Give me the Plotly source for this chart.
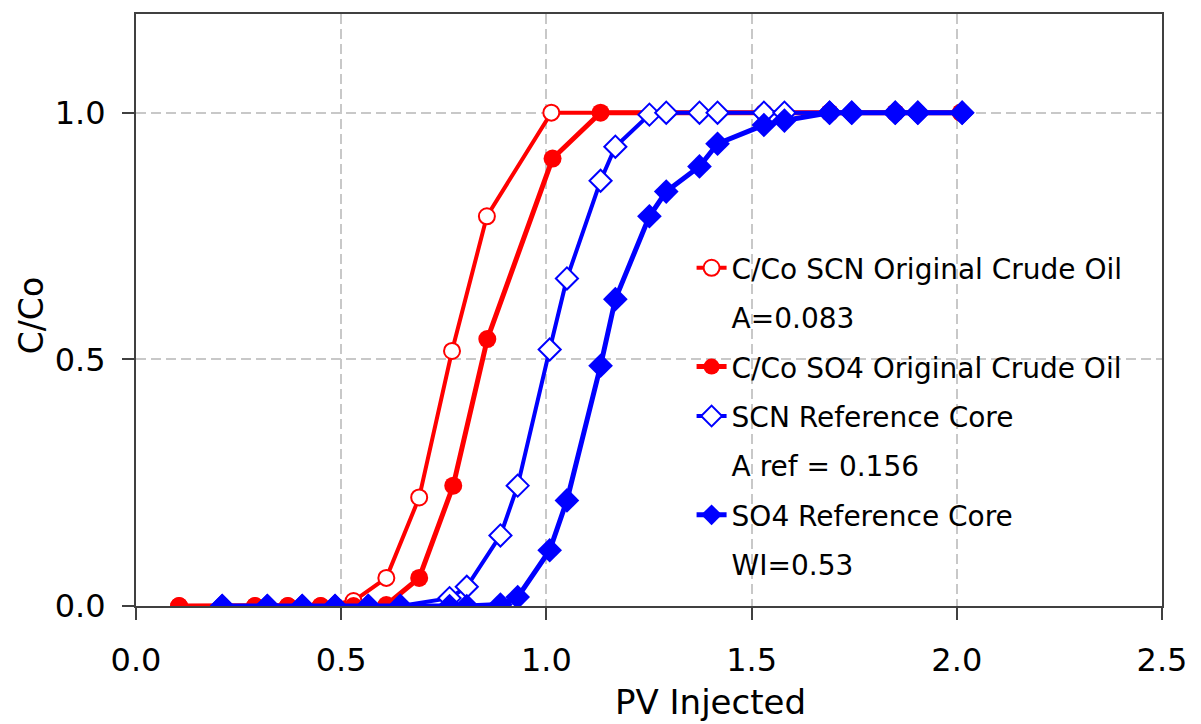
import plotly.graph_objects as go

# Red series (Original Crude Oil)
x_scn_oil = [0.105, 0.29, 0.37, 0.45, 0.53, 0.61, 0.69, 0.77, 0.855, 1.012, 1.53, 1.69, 1.85, 2.01]
y_scn_oil = [0.0, 0.0, 0.0, 0.0, 0.01, 0.057, 0.22, 0.517, 0.79, 1.0, 1.0, 1.0, 1.0, 1.0]

x_so4_oil = [0.105, 0.29, 0.37, 0.45, 0.53, 0.61, 0.69, 0.773, 0.856, 1.015, 1.132, 1.69, 1.85, 2.01]
y_so4_oil = [0.0, 0.0, 0.0, 0.0, 0.0, 0.002, 0.057, 0.244, 0.541, 0.907, 1.0, 1.0, 1.0, 1.0]

# Blue series (Reference Core)
x_ref = [0.21, 0.32, 0.405, 0.485, 0.566, 0.644, 0.764, 0.806, 0.888, 0.93, 1.008, 1.05,
         1.132, 1.168, 1.251, 1.292, 1.373, 1.417, 1.53, 1.58, 1.69, 1.744, 1.85, 1.905, 2.013]
y_scn_ref = [0.0, 0.0, 0.0, 0.0, 0.0, 0.0, 0.016, 0.039, 0.143, 0.244, 0.52, 0.664,
             0.862, 0.931, 0.996, 1.0, 1.0, 1.0, 1.0, 1.0, 1.0, 1.0, 1.0, 1.0, 1.0]
y_so4_ref = [0.0, 0.0, 0.0, 0.0, 0.0, 0.0, 0.0, 0.0, 0.003, 0.018, 0.113, 0.214,
             0.487, 0.622, 0.79, 0.84, 0.891, 0.937, 0.975, 0.984, 1.0, 1.0, 1.0, 1.0, 1.0]

names = ["C/Co SCN Original Crude Oil", "C/Co SO4 Original Crude Oil",
         "SCN Reference Core", "SO4 Reference Core"]
notes = ["A=0.083", "A ref = 0.156", "WI=0.53"]
x_title = "PV Injected"
y_title = "C/Co"

RED = "#ff0000"
BLUE = "#0000ff"
FONT = "DejaVu Sans"

fig = go.Figure()

def note_trace(text, g):
    return go.Scatter(x=[None], y=[None], mode="lines", name=text,
                      line=dict(color="rgba(0,0,0,0)", width=0),
                      legendgroup=g, showlegend=True, hoverinfo="skip")

fig.add_trace(go.Scatter(x=x_scn_oil, y=y_scn_oil, mode="lines+markers", name=names[0],
                         legendgroup="g1",
                         line=dict(color=RED, width=4),
                         marker=dict(symbol="circle", size=16, color="white",
                                     line=dict(color=RED, width=2))))
fig.add_trace(note_trace(notes[0], "g2"))
fig.add_trace(go.Scatter(x=x_so4_oil, y=y_so4_oil, mode="lines+markers", name=names[1],
                         legendgroup="g3",
                         line=dict(color=RED, width=5),
                         marker=dict(symbol="circle", size=18, color=RED,
                                     line=dict(color=RED, width=0))))
fig.add_trace(go.Scatter(x=x_ref, y=y_scn_ref, mode="lines+markers", name=names[2],
                         legendgroup="g4",
                         line=dict(color=BLUE, width=4),
                         marker=dict(symbol="diamond", size=17, color="white",
                                     line=dict(color=BLUE, width=2))))
fig.add_trace(note_trace(notes[1], "g5"))
fig.add_trace(go.Scatter(x=x_ref, y=y_so4_ref, mode="lines+markers", name=names[3],
                         legendgroup="g6",
                         line=dict(color=BLUE, width=5),
                         marker=dict(symbol="diamond", size=19, color=BLUE,
                                     line=dict(color=BLUE, width=0))))
fig.add_trace(note_trace(notes[2], "g7"))

axis_common = dict(
    showline=True, linecolor="#404040", linewidth=2, mirror=True,
    ticks="outside", ticklen=12, tickwidth=2, tickcolor="#404040",
    showgrid=True, gridcolor="#c8c8c8", gridwidth=1.5, griddash="10px,5px",
    zeroline=False, tickfont=dict(family=FONT, size=32, color="#000000"),
    tickformat=".1f", dtick=0.5, tick0=0,
)

fig.update_layout(
    width=1201, height=724,
    margin=dict(l=136, r=39, t=12, b=118),
    paper_bgcolor="white", plot_bgcolor="white",
    font=dict(family=FONT, color="#000000"),
    xaxis=dict(range=[0, 2.5], ticklabelstandoff=13, **axis_common),
    yaxis=dict(range=[0, 1.2], ticklabelstandoff=10, **axis_common),
    legend=dict(x=0.5415, y=0.613, xanchor="left", yanchor="top",
                bgcolor="rgba(0,0,0,0)", borderwidth=0,
                font=dict(family=FONT, size=28, color="#000000"),
                traceorder="grouped", tracegroupgap=10),
    showlegend=True,
    annotations=[
        dict(text=x_title, xref="paper", yref="paper", x=0.5604, y=-0.163,
             xanchor="center", yanchor="middle", showarrow=False,
             font=dict(family=FONT, size=34, color="#000000")),
        dict(text=y_title, xref="paper", yref="paper", x=-0.101, y=0.49,
             xanchor="center", yanchor="middle", showarrow=False, textangle=-90,
             font=dict(family=FONT, size=33, color="#000000")),
    ],
)

fig.write_html("out.html")
